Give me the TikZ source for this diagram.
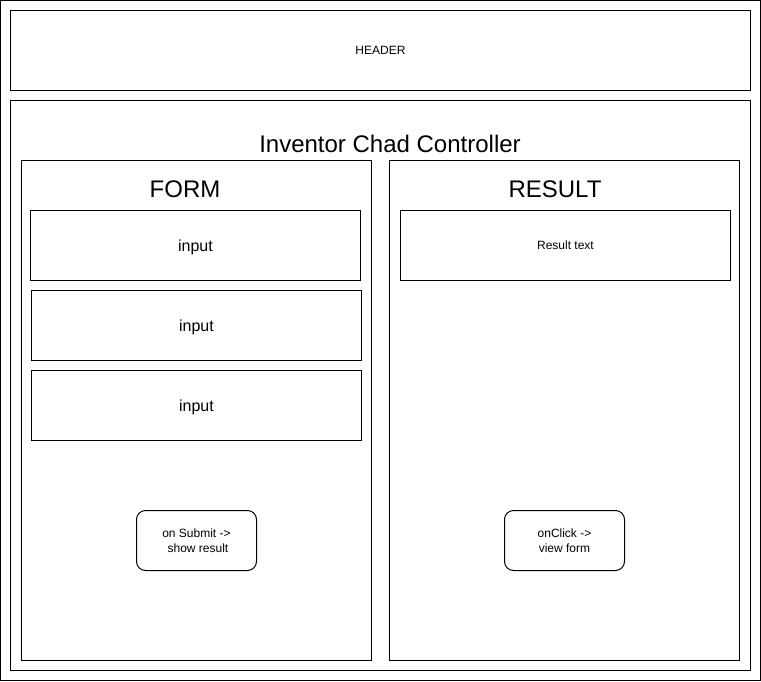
\documentclass[tikz,border=0pt]{standalone}
\usepackage{fontspec}
\setmainfont{Liberation Sans}
\begin{document}
\begin{tikzpicture}[x=1pt,y=-1pt,
  box/.style={draw=black, line width=1pt, fill=white, inner sep=0pt, outer sep=0pt},
  btn/.style={box, rounded corners=9pt, minimum width=120pt, minimum height=60pt,
    align=center, font=\fontsize{12}{15}\selectfont},
  small/.style={font=\fontsize{12}{14}\selectfont},
  mid/.style={font=\fontsize{16}{19}\selectfont, text depth=0pt},
  big/.style={font=\fontsize{24}{28}\selectfont}]
  \useasboundingbox (0,0) rectangle (761,681);
  % page frame
  \node[box, minimum width=760pt, minimum height=680pt] (frame) at (380.5,340.5) {};
  % header strip
  \node[box, small, minimum width=740pt, minimum height=80pt] (header) at (380.5,50.5) {HEADER};
  % controller area
  \node[box, minimum width=740pt, minimum height=570pt] (main) at (380.5,385.5) {};
  \node[big, anchor=base] (title) at (390,152) {Inventor Chad Controller};
  % form panel
  \node[box, minimum width=350pt, minimum height=500pt] (form) at (196.5,410.5) {};
  \node[big, anchor=base] (formtitle) at (185,197) {FORM};
  \node[box, mid, minimum width=330pt, minimum height=70pt] (in1) at (195.5,245.5) {input};
  \node[box, mid, minimum width=330pt, minimum height=70pt] (in2) at (196.5,325.5) {input};
  \node[box, mid, minimum width=330pt, minimum height=70pt] (in3) at (196.5,405.5) {input};
  \node[btn] (submit) at (196.5,540.5) {on Submit -\kern0pt>\\ \hspace*{3pt}show result};
  % result panel
  \node[box, minimum width=350pt, minimum height=500pt] (result) at (564.5,410.5) {};
  \node[big, anchor=base] (resulttitle) at (555,197) {RESULT};
  \node[box, small, minimum width=330pt, minimum height=70pt] (restext) at (565.5,245.5) {Result text};
  \node[btn] (back) at (564.5,540.5) {onClick -\kern0pt>\\ view form};
\end{tikzpicture}
\end{document}
